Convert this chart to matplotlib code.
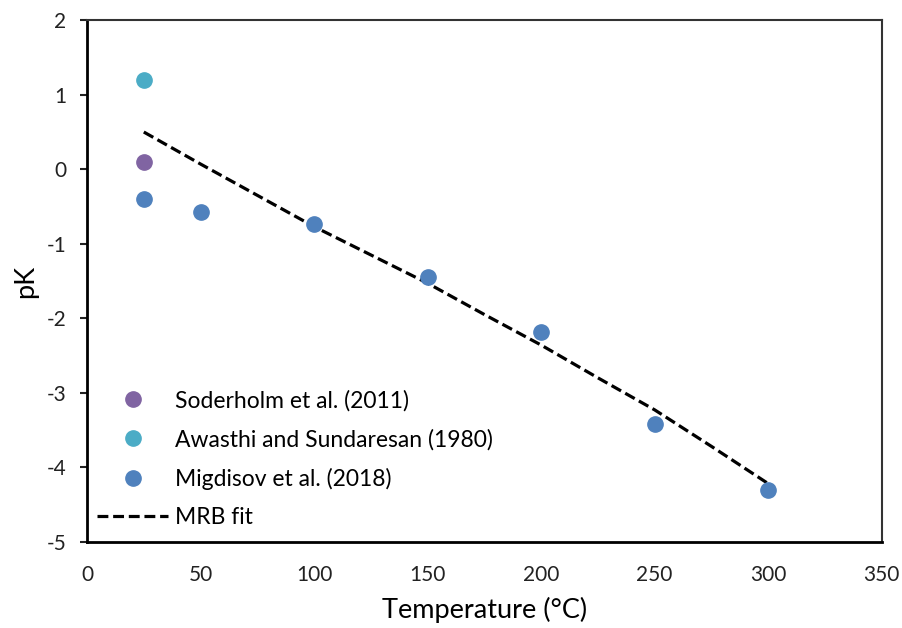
import matplotlib
matplotlib.use('Agg')
import matplotlib.pyplot as plt
import numpy as np

plt.rcParams['font.family'] = ['Lato', 'DejaVu Sans']
plt.rcParams['axes.unicode_minus'] = False

# data
sod_t = [25]
sod_pk = [0.10]
awa_t = [25]
awa_pk = [1.20]
mig_t = [25, 50, 100, 150, 200, 250, 300]
mig_pk = [-0.40, -0.58, -0.74, -1.44, -2.18, -3.42, -4.30]
fit_t = [25, 50, 75, 100, 125, 150, 175, 200, 225, 250, 275, 300]
fit_pk = [0.50, 0.07, -0.35, -0.77, -1.15, -1.53, -1.95, -2.36, -2.80, -3.23, -3.72, -4.22]

fig = plt.figure(figsize=(9.02, 6.28), dpi=100)
ax = fig.add_axes([0.0965, 0.1374, 0.881, 0.8303])

ms = 11
ax.plot(sod_t, sod_pk, 'o', ms=ms, color='#8064A2', label='Soderholm et al. (2011)', zorder=3)
ax.plot(awa_t, awa_pk, 'o', ms=ms, color='#4BACC6', label='Awasthi and Sundaresan (1980)', zorder=3)
ax.plot(mig_t, mig_pk, 'o', ms=ms, color='#4F81BD', label='Migdisov et al. (2018)', zorder=3)
ax.plot(fit_t, fit_pk, color='black', lw=2.3, dashes=(3.4, 1.5), label='MRB fit', zorder=2)

ax.set_xlim(0, 350)
ax.set_ylim(-5, 2)
ax.set_xticks(np.arange(0, 351, 50))
ax.set_yticks(np.arange(-5, 3, 1))
ax.set_xlabel('Temperature (°C)', fontsize=19.5, labelpad=8)
ax.set_ylabel('pK', fontsize=19.5, labelpad=6)

ax.tick_params(axis='x', length=0, pad=17, labelsize=15, colors='#222222')
ax.tick_params(axis='y', direction='out', length=5, width=1.5, pad=10, labelsize=15, colors='#222222')
for s in ['left', 'bottom']:
    ax.spines[s].set_linewidth(2)
for s in ['top', 'right']:
    ax.spines[s].set_linewidth(1.5)
    ax.spines[s].set_color('#333333')

ax.legend(loc='lower left', bbox_to_anchor=(0.004, 0.013), frameon=False, fontsize=16.5,
          handlelength=3.1, handletextpad=0.3, labelspacing=0.76, borderpad=0.3, borderaxespad=0)

fig.savefig('out.png', dpi=100)
